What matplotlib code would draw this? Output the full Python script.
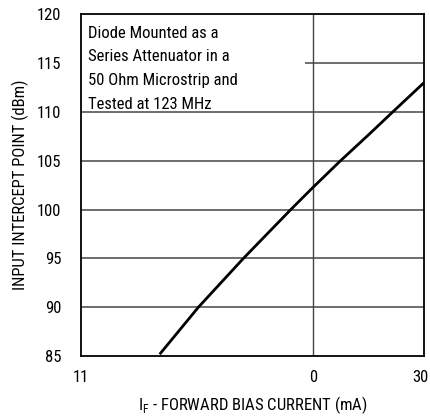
import matplotlib
matplotlib.use("Agg")
import matplotlib.pyplot as plt
import matplotlib.transforms as mtransforms
from matplotlib.patches import Rectangle

# forward bias current (mA) vs input intercept point (dBm)
bias_ma = [2.2, 3.2, 5.0, 8.0, 10.0, 13.1, 17.2, 22.0, 30.0]
ip_dbm = [85.3, 90.0, 95.0, 100.0, 102.3, 105.0, 107.6, 110.0, 113.0]

x_ticks = [1, 10, 30]
x_tick_labels = ["11", "0", "30"]
y_ticks = [85, 90, 95, 100, 105, 110, 115, 120]

plt.rcParams['font.family'] = ['Roboto Condensed', 'Liberation Sans', 'DejaVu Sans']
fs = 12

fig = plt.figure(figsize=(4.31, 4.17), dpi=100)
ax = fig.add_axes([0.188, 0.146, 0.796, 0.820])

ax.set_xscale('log')
ax.set_xlim(1, 30)
ax.set_ylim(85, 120)

# grid lines
for y in y_ticks[1:-1]:
    ax.axhline(y, color='#555555', lw=1.2, zorder=1)
ax.axvline(10, color='#444444', lw=1.0, zorder=1)

# white box behind the note
ax.add_patch(Rectangle((1, 110.8), 8.25, 9.2, facecolor='white', edgecolor='none', zorder=2))

ax.plot(bias_ma, ip_dbm, color='black', lw=2.0, zorder=3)

ax.text(0.02, 0.966,
        "Diode Mounted as a\nSeries Attenuator in a\n50 Ohm Microstrip and\nTested at 123 MHz",
        transform=ax.transAxes, ha='left', va='top', fontsize=fs, linespacing=1.72, zorder=4)

ax.set_xticks(x_ticks)
ax.set_xticklabels(x_tick_labels)
ax.xaxis.set_minor_locator(matplotlib.ticker.NullLocator())
ax.set_yticks(y_ticks)
ax.tick_params(axis='both', length=0, labelsize=fs)
ax.tick_params(axis='y', pad=14)
ax.tick_params(axis='x', pad=10)

# nudge the last x label in so it stays inside the figure
last = ax.get_xticklabels()[-1]
last.set_transform(last.get_transform() + mtransforms.ScaledTranslation(-3 / 72, 0, fig.dpi_scale_trans))

for s in ax.spines.values():
    s.set_linewidth(1.3)
    s.set_color('black')

ax.set_xlabel(r"I$_\mathregular{F}$ - FORWARD BIAS CURRENT (mA)", fontsize=fs, labelpad=7)
ax.set_ylabel("INPUT INTERCEPT POINT (dBm)", fontsize=fs, labelpad=6)

fig.savefig("out.png", dpi=100)
